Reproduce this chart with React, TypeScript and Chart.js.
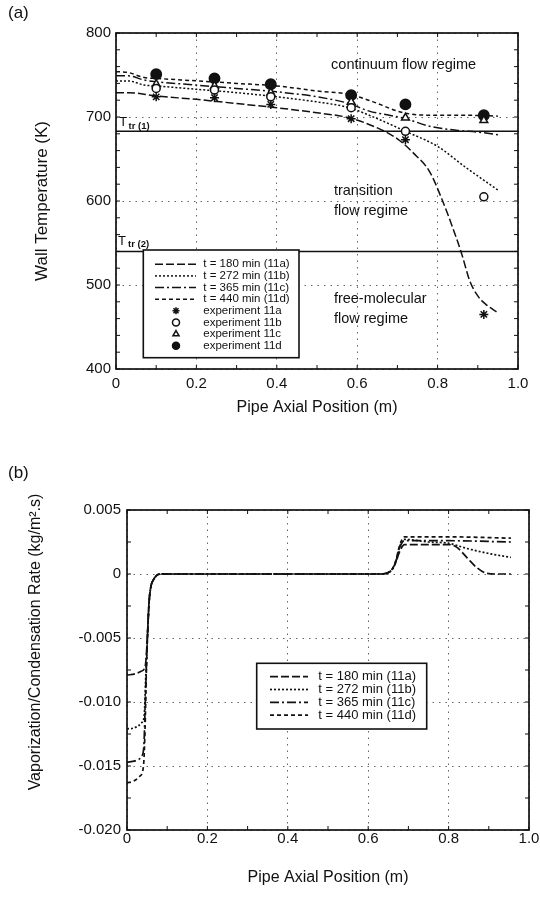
import { useEffect, useRef } from "react";
import { Chart, registerables } from "chart.js";
import { drawPoint } from "chart.js/helpers";

Chart.register(...registerables);

const FONT = "'Liberation Sans', Arial, Helvetica, sans-serif";
const INK = "#111";
Chart.defaults.font.family = FONT;
Chart.defaults.color = INK;

// ---------- shared ----------
const seriesLabels = ["t = 180 min (11a)", "t = 272 min (11b)", "t = 365 min (11c)", "t = 440 min (11d)"];
const expLabels = ["experiment 11a", "experiment 11b", "experiment 11c", "experiment 11d"];
const xTicks = [0, 0.2, 0.4, 0.6, 0.8, 1.0];
const xTickLabels = ["0", "0.2", "0.4", "0.6", "0.8", "1.0"];

// ---------- (a) wall temperature ----------
const yTicksA = [400, 500, 600, 700, 800];
const yTickLabelsA = ["400", "500", "600", "700", "800"];

const posA180 = [0, 0.03, 0.1, 0.2, 0.3, 0.4, 0.5, 0.58, 0.65, 0.7, 0.74, 0.78, 0.81, 0.84, 0.86, 0.88, 0.9, 0.92, 0.95];
const tempA180 = [729, 729, 725, 721, 716, 711, 705, 699, 687, 674, 657, 635, 603, 565, 537, 505, 487, 477, 467];

const posA272 = [0, 0.03, 0.07, 0.1, 0.2, 0.3, 0.4, 0.5, 0.58, 0.65, 0.72, 0.8, 0.87, 0.95];
const tempA272 = [743, 743, 738, 737, 733, 729, 724, 718, 711, 698, 683, 665, 640, 613];

const posA365 = [0, 0.03, 0.07, 0.1, 0.2, 0.3, 0.4, 0.5, 0.58, 0.63, 0.68, 0.72, 0.78, 0.85, 0.9, 0.95];
const tempA365 = [749, 749, 744, 742, 738, 734, 730, 724, 716, 707, 702, 698, 689, 684, 682, 679];

const posA440 = [0, 0.03, 0.07, 0.1, 0.2, 0.3, 0.4, 0.5, 0.58, 0.64, 0.715, 0.8, 0.88, 0.95];
const tempA440 = [754, 753, 747, 746, 743, 740, 737, 731, 727, 718, 705, 702, 702, 701];

const expPos = [0.1, 0.245, 0.385, 0.585, 0.72, 0.915];
const exp11a = [724, 723, 715, 698, 673, 465];
const exp11b = [734, 732, 724, 711, 683, 605];
const exp11c = [739, 737, 729, 718, 699, 696];
const exp11d = [751, 746, 739, 726, 715, 702];

const T_TR1 = 683;
const T_TR2 = 540;

// ---------- (b) vaporization / condensation rate ----------
const yTicksB = [-0.02, -0.015, -0.01, -0.005, 0, 0.005];
const yTickLabelsB = ["-0.020", "-0.015", "-0.010", "-0.005", "0", "0.005"];

const posB180 = [0, 0.02, 0.035, 0.043, 0.047, 0.051, 0.055, 0.06, 0.065, 0.074, 0.085, 0.63, 0.655, 0.667, 0.679, 0.69, 0.75, 0.8, 0.82, 0.845, 0.87, 0.895, 0.92, 0.955];
const rateB180 = [-0.0079, -0.0078, -0.0076, -0.0074, -0.0068, -0.0047, -0.0021, -0.0009, -0.0005, -0.0001, 0, 0, 0.0002, 0.0008, 0.0018, 0.0023, 0.0023, 0.0023, 0.0021, 0.0013, 0.0005, 0.00005, 0, 0];

const posB272 = [0, 0.02, 0.037, 0.043, 0.046, 0.051, 0.055, 0.06, 0.065, 0.074, 0.085, 0.63, 0.655, 0.667, 0.679, 0.69, 0.75, 0.8, 0.845, 0.9, 0.955];
const rateB272 = [-0.0121, -0.012, -0.0116, -0.011, -0.0085, -0.0048, -0.0022, -0.0009, -0.0005, -0.0001, 0, 0, 0.0002, 0.0008, 0.0022, 0.0027, 0.0025, 0.0024, 0.002, 0.0016, 0.0013];

const posB365 = [0, 0.02, 0.037, 0.042, 0.045, 0.048, 0.051, 0.055, 0.06, 0.065, 0.074, 0.085, 0.63, 0.655, 0.667, 0.679, 0.69, 0.8, 0.955];
const rateB365 = [-0.0147, -0.0146, -0.0142, -0.0134, -0.0105, -0.0075, -0.0048, -0.0022, -0.0009, -0.0005, -0.0001, 0, 0, 0.0002, 0.0008, 0.0021, 0.0026, 0.0026, 0.0025];

const posB440 = [0, 0.015, 0.032, 0.041, 0.045, 0.048, 0.051, 0.055, 0.06, 0.065, 0.074, 0.085, 0.63, 0.655, 0.667, 0.679, 0.69, 0.8, 0.955];
const rateB440 = [-0.0163, -0.0162, -0.0158, -0.015, -0.012, -0.0078, -0.0049, -0.0022, -0.0009, -0.0005, -0.0001, 0, 0, 0.0002, 0.0009, 0.0023, 0.0029, 0.0029, 0.0028];

// ---------- styles ----------
const DASH_A = [8, 3];
const DASH_B = [2, 2];
const DASH_C = [9, 3, 2, 3];
const DASH_D = [4, 3];

const pts = (xs: number[], ys: number[]) => xs.map((x, i) => ({ x, y: ys[i] }));

const lineDs = (label: string, xs: number[], ys: number[], dash: number[], width = 1.5) => ({
  label,
  data: pts(xs, ys),
  showLine: true,
  borderColor: INK,
  backgroundColor: INK,
  borderWidth: width,
  borderDash: dash,
  pointRadius: 0,
  pointHoverRadius: 0,
  cubicInterpolationMode: "monotone",
  fill: false,
});

const markDs = (label: string, ys: number[], style: string, radius: number, fill: string) => ({
  label,
  data: pts(expPos, ys),
  showLine: false,
  pointStyle: style,
  pointRadius: radius,
  pointHoverRadius: radius,
  pointBackgroundColor: fill,
  pointBorderColor: INK,
  pointBorderWidth: 1.5,
  borderColor: INK,
  backgroundColor: fill,
});

// ---------- plugins ----------
type Note = { text: string; x?: number; y?: number; px?: number; py?: number; font: string; align?: string; rotate?: number };

function notesPlugin(items: Note[]) {
  return {
    id: "notes",
    afterDraw(chart: any) {
      const { ctx, scales } = chart;
      items.forEach((it) => {
        const px = it.px !== undefined ? it.px : scales.x.getPixelForValue(it.x);
        const py = it.py !== undefined ? it.py : scales.y.getPixelForValue(it.y);
        ctx.save();
        ctx.font = it.font;
        ctx.fillStyle = INK;
        ctx.textAlign = it.align || "left";
        ctx.textBaseline = "middle";
        ctx.translate(px, py);
        if (it.rotate) ctx.rotate(it.rotate);
        ctx.fillText(it.text, 0, 0);
        ctx.restore();
      });
    },
  };
}

function framePlugin(xStep: number, yStep: number, len: number) {
  return {
    id: "frame",
    afterDatasetsDraw(chart: any) {
      const { ctx, chartArea: ca, scales } = chart;
      const xs = scales.x;
      const ys = scales.y;
      ctx.save();
      ctx.setLineDash([]);
      ctx.strokeStyle = INK;
      ctx.lineWidth = 1;
      const seg = (x1: number, y1: number, x2: number, y2: number) => {
        ctx.beginPath();
        ctx.moveTo(x1, y1);
        ctx.lineTo(x2, y2);
        ctx.stroke();
      };
      const nX = Math.round((xs.max - xs.min) / xStep);
      for (let i = 0; i <= nX; i++) {
        const p = xs.getPixelForValue(xs.min + i * xStep);
        seg(p, ca.bottom, p, ca.bottom - len);
        seg(p, ca.top, p, ca.top + len);
      }
      const nY = Math.round((ys.max - ys.min) / yStep);
      for (let i = 0; i <= nY; i++) {
        const p = ys.getPixelForValue(ys.min + i * yStep);
        seg(ca.left, p, ca.left + len, p);
        seg(ca.right, p, ca.right - len, p);
      }
      ctx.lineWidth = 1.7;
      ctx.strokeRect(ca.left, ca.top, ca.right - ca.left, ca.bottom - ca.top);
      ctx.restore();
    },
  };
}

type LegendCfg = {
  items: number[]; left: number; top: number; width: number; height: number;
  firstRow: number; rowStep: number; sampleX0: number; sampleX1: number; markerX: number;
  markerRadius: number; textX: number; font: string;
};

function boxLegendPlugin(cfg: LegendCfg) {
  return {
    id: "boxLegend",
    afterDraw(chart: any) {
      const { ctx, chartArea } = chart;
      const x0 = chartArea.left + cfg.left;
      const y0 = chartArea.top + cfg.top;
      ctx.save();
      ctx.setLineDash([]);
      ctx.fillStyle = "#fff";
      ctx.fillRect(x0, y0, cfg.width, cfg.height);
      ctx.strokeStyle = INK;
      ctx.lineWidth = 1.6;
      ctx.strokeRect(x0, y0, cfg.width, cfg.height);
      ctx.font = cfg.font;
      ctx.textBaseline = "middle";
      ctx.textAlign = "left";
      cfg.items.forEach((idx, i) => {
        const ds: any = chart.data.datasets[idx];
        const y = y0 + cfg.firstRow + i * cfg.rowStep;
        ctx.strokeStyle = INK;
        if (ds.showLine) {
          ctx.lineWidth = ds.borderWidth;
          ctx.setLineDash(ds.borderDash || []);
          ctx.beginPath();
          ctx.moveTo(x0 + cfg.sampleX0, y);
          ctx.lineTo(x0 + cfg.sampleX1, y);
          ctx.stroke();
          ctx.setLineDash([]);
        } else {
          ctx.lineWidth = ds.pointBorderWidth;
          ctx.fillStyle = ds.pointBackgroundColor;
          drawPoint(ctx, { pointStyle: ds.pointStyle, rotation: 0, radius: cfg.markerRadius, borderWidth: ds.pointBorderWidth }, x0 + cfg.markerX, y);
        }
        ctx.fillStyle = INK;
        ctx.fillText(ds.label, x0 + cfg.textX, y);
      });
      ctx.restore();
    },
  };
}

const gridOpts = { color: "#555", lineWidth: 0.9, drawTicks: false };
const borderOpts = { display: false, dash: [1.5, 5] };

function configA(): any {
  const datasets = [
    markDs(expLabels[0], exp11a, "star", 4.5, INK),
    markDs(expLabels[1], exp11b, "circle", 4, "#fff"),
    markDs(expLabels[2], exp11c, "triangle", 4.5, "#fff"),
    markDs(expLabels[3], exp11d, "circle", 5.2, INK),
    lineDs(seriesLabels[0], posA180, tempA180, DASH_A),
    lineDs(seriesLabels[1], posA272, tempA272, DASH_B),
    lineDs(seriesLabels[2], posA365, tempA365, DASH_C),
    lineDs(seriesLabels[3], posA440, tempA440, DASH_D),
    lineDs("T_tr(1)", [0, 1], [T_TR1, T_TR1], [], 1.5),
    lineDs("T_tr(2)", [0, 1], [T_TR2, T_TR2], [], 1.5),
  ];
  const notes: Note[] = [
    { text: "(a)", px: 8, py: 13, font: `17px ${FONT}` },
    { text: "continuum flow regime", x: 0.535, y: 762, font: `14.5px ${FONT}` },
    { text: "transition", x: 0.542, y: 612, font: `14.5px ${FONT}` },
    { text: "flow regime", x: 0.542, y: 588, font: `14.5px ${FONT}` },
    { text: "free-molecular", x: 0.542, y: 483, font: `14.5px ${FONT}` },
    { text: "flow regime", x: 0.542, y: 459, font: `14.5px ${FONT}` },
    { text: "T", x: 0.008, y: 693, font: `13px ${FONT}` },
    { text: "tr (1)", x: 0.031, y: 689, font: `bold 9.5px ${FONT}` },
    { text: "T", x: 0.005, y: 552, font: `13px ${FONT}` },
    { text: "tr (2)", x: 0.03, y: 548, font: `bold 9.5px ${FONT}` },
  ];
  return {
    type: "scatter",
    data: { datasets },
    options: {
      responsive: false,
      animation: false,
      events: [],
      layout: { padding: { left: 0, top: 33, right: 22, bottom: 0 } },
      plugins: { legend: { display: false }, tooltip: { enabled: false } },
      scales: {
        x: {
          type: "linear",
          min: 0,
          max: 1,
          afterFit: (s: any) => { s.height = 61; },
          afterBuildTicks: (s: any) => { s.ticks = xTicks.map((v) => ({ value: v })); },
          ticks: { padding: 6, font: { size: 15 }, color: INK, maxRotation: 0, autoSkip: false, callback: (_v: any, i: number) => xTickLabels[i] },
          grid: gridOpts,
          border: borderOpts,
          title: { display: true, text: "Pipe Axial Position (m)", color: INK, font: { size: 16 }, padding: { top: 0, bottom: 12.4 } },
        },
        y: {
          type: "linear",
          min: 400,
          max: 800,
          afterFit: (s: any) => { s.width = 116; },
          afterBuildTicks: (s: any) => { s.ticks = yTicksA.map((v) => ({ value: v })); },
          ticks: { padding: 5, font: { size: 15 }, color: INK, autoSkip: false, callback: (_v: any, i: number) => yTickLabelsA[i] },
          grid: gridOpts,
          border: borderOpts,
          title: { display: true, text: "Wall Temperature (K)", color: INK, font: { size: 17 }, padding: { top: 32, bottom: 0 } },
        },
      },
    },
    plugins: [
      framePlugin(0.1, 20, 4),
      boxLegendPlugin({
        items: [4, 5, 6, 7, 0, 1, 2, 3],
        left: 27.3, top: 217, width: 155.7, height: 107.7,
        firstRow: 14.3, rowStep: 11.62, sampleX0: 11.7, sampleX1: 52.7, markerX: 32.7,
        markerRadius: 3.5, textX: 60, font: `11.5px ${FONT}`,
      }),
      notesPlugin(notes),
    ],
  };
}

function configB(): any {
  const datasets = [
    lineDs(seriesLabels[0], posB180, rateB180, DASH_A, 1.7),
    lineDs(seriesLabels[1], posB272, rateB272, DASH_B, 1.7),
    lineDs(seriesLabels[2], posB365, rateB365, DASH_C, 1.7),
    lineDs(seriesLabels[3], posB440, rateB440, DASH_D, 1.7),
  ];
  const notes: Note[] = [
    { text: "(b)", px: 8, py: 43, font: `17px ${FONT}` },
    { text: "Vaporization/Condensation Rate (kg/m\u00b2.s)", px: 36, py: 212, rotate: -Math.PI / 2, align: "center", font: `16px ${FONT}` },
  ];
  return {
    type: "scatter",
    data: { datasets },
    options: {
      responsive: false,
      animation: false,
      events: [],
      layout: { padding: { left: 0, top: 80, right: 11, bottom: 0 } },
      plugins: { legend: { display: false }, tooltip: { enabled: false } },
      scales: {
        x: {
          type: "linear",
          min: 0,
          max: 1,
          afterFit: (s: any) => { s.height = 74; },
          afterBuildTicks: (s: any) => { s.ticks = xTicks.map((v) => ({ value: v })); },
          ticks: { padding: 0, font: { size: 15 }, color: INK, maxRotation: 0, autoSkip: false, callback: (_v: any, i: number) => xTickLabels[i] },
          grid: gridOpts,
          border: borderOpts,
          title: { display: true, text: "Pipe Axial Position (m)", color: INK, font: { size: 16 }, padding: { top: 0, bottom: 16.4 } },
        },
        y: {
          type: "linear",
          min: -0.02,
          max: 0.005,
          afterFit: (s: any) => { s.width = 127; },
          afterBuildTicks: (s: any) => { s.ticks = yTicksB.map((v) => ({ value: v })); },
          ticks: { padding: 6, font: { size: 15 }, color: INK, autoSkip: false, callback: (_v: any, i: number) => yTickLabelsB[i] },
          grid: gridOpts,
          border: borderOpts,
        },
      },
    },
    plugins: [
      framePlugin(0.1, 0.0025, 4),
      boxLegendPlugin({
        items: [0, 1, 2, 3],
        left: 129.7, top: 153.3, width: 170, height: 65.7,
        firstRow: 13.4, rowStep: 12.8, sampleX0: 13.3, sampleX1: 51.3, markerX: 32,
        markerRadius: 3.5, textX: 61.6, font: `13px ${FONT}`,
      }),
      notesPlugin(notes),
    ],
  };
}

export default function App() {
  const refA = useRef<HTMLCanvasElement>(null);
  const refB = useRef<HTMLCanvasElement>(null);
  useEffect(() => {
    const a = new Chart(refA.current as HTMLCanvasElement, configA());
    const b = new Chart(refB.current as HTMLCanvasElement, configB());
    return () => {
      a.destroy();
      b.destroy();
    };
  }, []);
  return (
    <div style={{ position: "absolute", left: 0, top: 0, width: 540, height: 904, background: "#fff" }}>
      <canvas ref={refA} width={540} height={430} style={{ position: "absolute", left: 0, top: 0, width: 540, height: 430 }} />
      <canvas ref={refB} width={540} height={474} style={{ position: "absolute", left: 0, top: 430, width: 540, height: 474 }} />
    </div>
  );
}
